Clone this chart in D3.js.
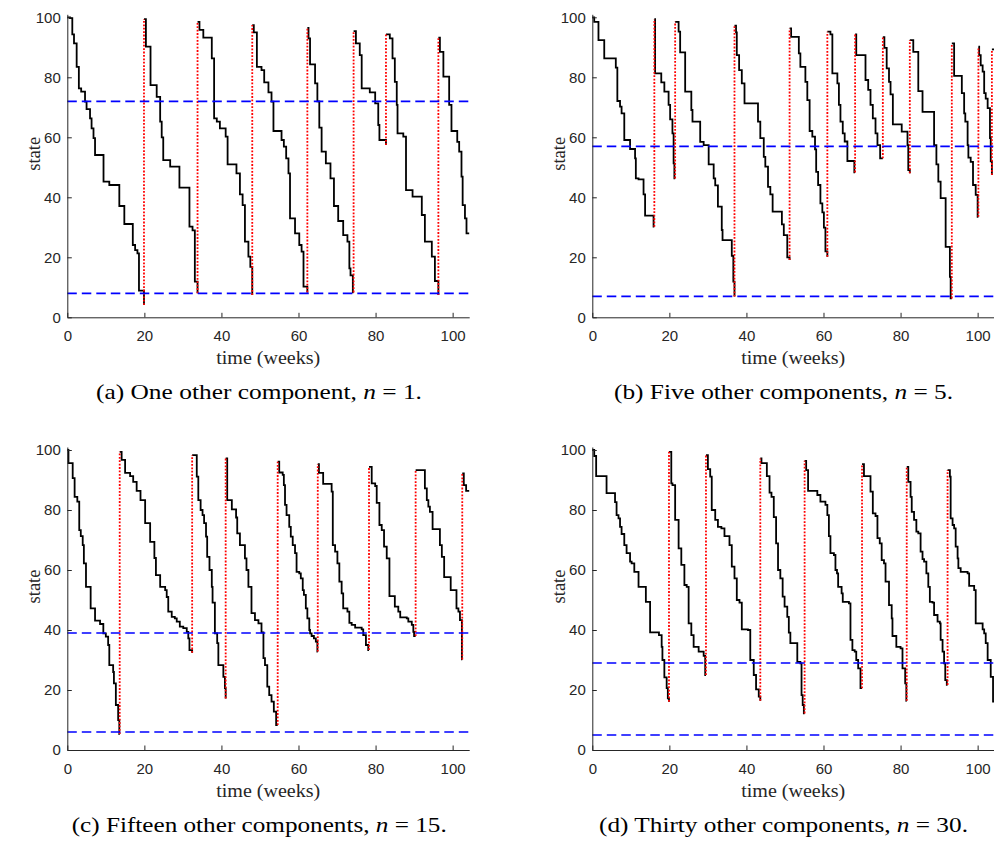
<!DOCTYPE html>
<html>
<head>
<meta charset="utf-8">
<script src="https://cdn.jsdelivr.net/npm/d3@7/dist/d3.min.js"></script>
<style>
  body { margin: 0; background: #fff; }
  svg { display: block; }
</style>
</head>
<body>
<svg id="fig" width="994" height="845"></svg>
<script>
// Component state over two years, [week, state] breakpoints of each stair path.
// A repeated week with a higher state marks a maintenance reset.
const trackA = [
  [0,100],[0.7,99.7],[1.3,94.3],[1.74,91.3],[2.43,83.5],[3.0,76.3],[3.6,75.2],[4.6,71.9],[5.0,69.4],[5.9,66.3],[6.3,63],[6.8,59.7],[7.2,54.1],[9.4,45.2],[10.9,44.1],[13.5,37.1],[14.8,31.1],[17.0,24.1],[17.6,22.4],[18.2,21.3],[18.6,8.9],[19.9,4.1],[19.9,99.4],
  [20.4,90.2],[21.6,77.4],[23.2,73.5],[24.1,65.2],[24.5,60],[24.9,52.4],[26.7,50.2],[29.1,43.2],[31.7,30.2],[32.5,29],[33.1,11.9],[33.8,8],[33.8,98.5],
  [34.3,95.8],[35.3,93.2],[37.5,86.3],[38.1,66.3],[38.8,65.2],[39.6,63],[41.1,60.2],[41.6,51],[43.9,48],[44.8,41],[45.5,37.4],[46.1,25.2],[47.0,20.2],[47.5,16.8],[48.0,7.4],[48.0,97.4],
  [48.4,95],[49.2,83.5],[50.4,82.4],[51.1,78.3],[52.2,75],[53.0,71.9],[53.5,62.1],[55.6,59.1],[56.2,56.9],[56.8,53],[57.4,48],[57.8,33],[59.1,28],[60.2,24.1],[60.8,21.9],[61.3,10.2],[62.3,8.3],[62.3,96.5],
  [62.6,93],[63.0,84.3],[64.3,78],[64.9,72],[65.4,63.2],[66.0,55.2],[67.1,51.3],[68.3,46.3],[69.2,37.1],[70.3,32.1],[71.6,27.4],[72.7,25.2],[73.2,16.3],[73.5,14],[74.1,8.3],[74.3,8.3],[74.3,95.4],
  [74.9,91.3],[75.9,87.4],[76.4,76.3],[78.5,75],[79.9,71.3],[80.7,64.1],[81.0,59.1],[82.7,57.4],[82.7,94.3],
  [83.7,93],[84.4,86.3],[85.0,78.5],[85.5,70.8],[85.7,61.3],[87.2,60.2],[87.9,42.4],[89.6,40.2],[92.0,34.1],[92.8,25.2],[94.6,20.2],[95.4,12.1],[96.3,7.4],[96.3,93.2],
  [96.7,88.5],[97.6,80.2],[99.1,70.8],[99.7,62.1],[101.2,58.5],[101.7,55.2],[102.3,46.9],[102.6,37.4],[103.2,33],[103.6,28]
];
const trackB = [
  [0,100],[0.5,98.5],[1.6,92.4],[3.1,86.3],[6.1,83.2],[6.5,72.1],[7.2,70.2],[7.6,68],[8.3,59.1],[9.8,56.1],[11.1,53],[11.3,46.3],[12.0,46],[13.3,41],[13.7,33.9],[15.9,30.2],[16.1,30.2],[16.1,99.4],
  [16.3,81.3],[17.9,78.3],[18.7,75.2],[19.8,70.8],[20.2,66],[20.8,61.3],[21.1,51.3],[21.3,46.3],[21.5,46.3],[21.5,98.5],
  [22.4,95.2],[22.8,88.3],[24.1,75.2],[25.7,69.1],[26.0,65.2],[28.0,58.5],[28.9,57.4],[30.2,51],[31.5,46.3],[31.9,44],[32.6,36.9],[33.6,29.1],[33.8,25.7],[36.2,20.5],[36.6,11.9],[36.9,6.9],[36.9,97.2],
  [37.3,95],[37.5,87.4],[38.1,82.4],[38.8,78],[39.5,71.3],[43.0,65.2],[43.6,59.7],[44.5,53.5],[44.9,50.2],[45.6,43.5],[46.2,41],[46.8,35.2],[49.2,31],[49.7,27.4],[50.6,20],[51.2,19.1],[51.2,96.3],
  [51.6,93.5],[53.6,88],[54.0,83.5],[55.3,78.5],[55.8,72.4],[56.4,62.1],[57.1,60.2],[57.8,56],[58.1,48.5],[58.6,44.1],[59.2,38],[59.7,35],[60.1,29.9],[60.5,22],[61.0,20.2],[61.0,95.2],
  [61.8,94.3],[62.3,81.3],[63.6,78],[64.0,70.8],[64.4,65.2],[65.0,61.3],[65.5,58.6],[66.2,52.1],[68.0,48.3],[68.2,48.3],[68.2,94.3],
  [68.5,87.4],[70.9,79.1],[71.6,75.8],[72.2,70.8],[72.8,66.3],[73.5,61.3],[74.0,57.4],[74.7,53],[75.4,53],[75.4,93.4],
  [75.8,89.8],[76.4,83],[77.0,78.5],[77.4,74.3],[78.0,64.3],[80.3,61.9],[81.8,57.4],[82.0,49.1],[82.4,48],[82.4,92.4],
  [83.3,88.5],[84.6,75.4],[85.7,68.5],[88.7,57.4],[89.3,51],[89.8,45.2],[90.4,39.7],[91.7,23.5],[92.8,13.5],[93.0,6.3],[93.3,6.3],[93.3,91.3],
  [93.9,80.5],[95.9,74.7],[96.5,68],[96.8,65.2],[97.4,57.4],[97.6,53.2],[98.2,51.8],[98.8,44.1],[99.5,40.8],[100.0,33.5],[100.2,33.5],[100.2,90.2],
  [100.4,87.4],[100.8,84],[101.3,81.9],[101.7,74.7],[102.1,72.9],[102.6,69.7],[103.2,59.7],[103.4,52],[103.7,47.4],[103.7,89.3]
];
const trackC = [
  [0,100],[0.3,95.6],[1.4,90.6],[1.9,84.4],[2.6,82.8],[3.1,73.3],[3.5,71.3],[4.0,68.3],[4.3,62.2],[4.85,54.4],[6.06,47.2],[7.2,43.1],[8.5,42],[9.35,38.9],[10.0,37.8],[10.6,35],[10.9,28.3],[11.9,26],[12.1,22.2],[12.6,15],[13.2,10],[13.5,5.3],[13.6,5.3],[13.6,99.4],
  [14.1,96.7],[15.0,92.4],[16.3,91.3],[17.1,89.4],[18.0,86.4],[19.0,83.3],[20.2,75.6],[21.5,69.4],[22.6,64],[23.0,58.3],[24.1,54.4],[25.4,53.3],[25.8,51],[26.2,46.1],[27.1,44.4],[27.9,43.9],[28.4,42.8],[29.2,41.1],[30.1,40.6],[31.0,39.4],[31.4,37.2],[31.7,33.3],[32.4,32.4],[32.4,98.3],
  [33.6,91.1],[34.0,83.3],[34.6,80],[35.1,78.3],[35.5,75.6],[36.0,71.1],[36.3,64.4],[36.9,60],[37.5,54.4],[37.7,49.1],[38.3,38.9],[38.9,35.6],[39.2,28.3],[40.5,24.4],[40.9,20.6],[41.1,17.2],[41.1,97.2],
  [41.5,83.3],[42.7,80.2],[43.8,77.5],[44.1,72.2],[44.8,68.3],[46.1,63.9],[46.5,60],[47.0,54.4],[47.8,45.6],[48.7,43.3],[49.6,42.2],[50.4,39.2],[50.9,30.6],[51.3,28.3],[51.9,21.1],[52.4,18.3],[53.0,16.1],[53.6,12.8],[54.2,8.3],[54.6,8.3],[54.6,96.1],
  [55.0,92.5],[55.9,91.7],[56.2,88.3],[56.5,81.7],[56.9,78.3],[57.6,74.4],[58.0,71.1],[58.5,68.3],[59.1,65.6],[59.5,59.4],[60.2,58.9],[60.6,57.2],[61.1,53.3],[61.4,51.7],[61.9,47.2],[62.3,43.9],[62.8,40],[63.0,38.9],[63.4,38],[64.0,37.2],[64.5,36.1],[64.9,32.8],[65.0,32.8],[65.0,95.3],
  [65.3,92.4],[66.4,88.7],[68.6,86.1],[68.9,68.3],[69.5,66.1],[70.1,62.2],[70.6,56.1],[71.2,52.2],[71.6,47.2],[72.7,46.1],[73.2,42.4],[73.8,41.7],[74.7,40.8],[76.4,40.2],[76.8,38.3],[77.5,35],[78.1,33.3],[78.3,33.3],[78.3,94.4],
  [79.0,88.9],[79.9,88],[80.3,82.4],[81.0,75],[81.6,73.3],[82.2,67.8],[82.9,63.9],[83.6,51.3],[85.0,47.8],[85.9,46.1],[86.4,44.2],[88.1,43.9],[88.5,42.8],[89.4,41.7],[89.8,39.4],[90.0,38],[90.4,38],[90.4,93.3],
  [92.8,87.2],[93.3,83.3],[93.7,81.1],[94.1,79.4],[94.8,73.6],[96.7,68.3],[97.2,64.4],[97.8,57.6],[99.5,53.3],[101.0,47.2],[101.5,46.1],[101.9,43.3],[102.4,30.2],[102.5,30.2],[102.5,92.2],
  [102.9,88.3],[103.5,86.4]
];
const trackD = [
  [0,100],[0.5,98],[1.0,91.3],[3.7,85.6],[5.9,82.6],[6.3,78.3],[6.8,77.2],[7.2,74.4],[7.6,72],[8.3,68.3],[8.9,65.6],[9.8,62.8],[10.2,62.2],[10.9,59.4],[12.0,54.4],[13.9,49.4],[15.0,39.2],[17.3,38.3],[18.0,34.4],[18.2,30],[18.7,24.2],[19.3,20.6],[19.6,17.2],[19.9,16.1],[19.9,99.4],
  [20.5,88.9],[20.8,88.3],[21.5,76.7],[22.4,67.2],[23.1,61.7],[23.9,55],[24.5,54.4],[25.0,42.2],[25.7,38.3],[26.3,34.4],[27.6,32.8],[28.9,31.4],[29.3,25],[29.5,25],[29.5,98.3],
  [30.0,93.6],[30.6,91.1],[31.0,80],[31.9,76.7],[32.6,74.4],[33.5,73.9],[34.3,71.3],[35.6,68.3],[36.2,61.1],[36.9,57.2],[37.5,50],[38.2,49.1],[38.8,40.2],[40.4,40],[41.0,30],[41.9,25],[42.5,20.2],[43.2,17.8],[43.6,16.4],[43.6,97.2],
  [43.9,95.6],[45.3,91.3],[46.0,85.8],[46.5,84.4],[47.1,77.6],[47.7,68.9],[48.2,60],[48.8,57.2],[49.4,51.1],[49.9,47.8],[50.6,44.4],[51.0,39.1],[51.4,35.6],[53.2,29.4],[54.0,28.9],[54.3,18.3],[54.6,15],[54.9,12.2],[55.1,12.2],[55.1,96.4],
  [55.5,93.3],[56.0,86.4],[58.4,85],[59.2,82.8],[60.5,81.7],[61.0,78.3],[61.4,71.3],[61.8,65.6],[62.7,65],[63.1,60],[63.5,58.9],[63.8,54.4],[64.7,52.2],[65.0,49.4],[66.6,48.9],[67.0,36.7],[67.5,33.3],[68.1,32.8],[68.5,30],[69.0,27.2],[69.6,20.6],[70.0,20.6],[70.0,95.3],
  [70.5,91.3],[72.2,86.1],[72.8,78.9],[73.5,78],[74.0,70.6],[74.6,68.9],[75.1,63.3],[75.7,62.2],[76.1,56.1],[77.0,48.3],[77.7,43.9],[77.9,38],[78.9,34.4],[80.0,33.9],[80.5,27.2],[81.2,22.2],[81.5,16.4],[81.6,16.4],[81.6,94.4],
  [82.0,89.4],[82.6,84.4],[82.9,79.4],[83.5,76.7],[84.1,72.8],[84.6,72.2],[85.2,66.1],[85.7,63.6],[86.1,62.8],[86.7,58.9],[87.2,54.4],[87.6,49.4],[88.3,49.1],[88.7,45],[89.6,42.8],[90.2,42.2],[90.4,36.7],[90.9,32.8],[91.3,28.9],[91.6,23.3],[92.0,21.7],[92.2,21.7],[92.2,93.3],
  [92.8,91.1],[93.0,77.2],[93.5,75],[93.9,73.9],[94.3,67.8],[94.8,63.9],[95.0,60.6],[95.6,59.4],[97.4,58.9],[97.8,54.7],[99.1,53.3],[99.5,42.2],[101.3,40.2],[101.7,38.9],[102.1,35.6],[102.6,30],[103.4,24.4],[104.0,16.1]
];

// Upper and lower state thresholds per case
const limitsA = [72, 8];
const limitsB = [57, 7];
const limitsC = [39, 6];
const limitsD = [29, 5];

const xTicks = [0, 20, 40, 60, 80, 100];
const yTicks = [0, 20, 40, 60, 80, 100];
const weekMax = 104.3;
const stateMax = 101;

const captionLead = ["(a) One other component, ", "(b) Five other components, ", "(c) Fifteen other components, ", "(d) Thirty other components, "];
const captionN = ["1", "5", "15", "30"];

// ---------------------------------------------------------------------------
const svg = d3.select("#fig");
const plotW = 401.9, plotH = 303;

const layout = [
  { track: trackA, limits: limitsA, left: 67.3, base: 317.3, capX: 96,  capW: 326 },
  { track: trackB, limits: limitsB, left: 592.3, base: 317.3, capX: 614, capW: 339 },
  { track: trackC, limits: limitsC, left: 67.3, base: 750,   capX: 71.7, capW: 375 },
  { track: trackD, limits: limitsD, left: 592.3, base: 750,   capX: 599, capW: 369 }
];

const axisInk = "#262626";
const sans = "'Liberation Sans', Arial, Helvetica, sans-serif";
const serif = "'Liberation Serif', 'Times New Roman', serif";

// split a track into decay runs and the resets between them
function splitTrack(track) {
  const runs = [[track[0]]];
  const resets = [];
  for (let i = 1; i < track.length; i++) {
    const prev = track[i - 1], cur = track[i];
    if (cur[0] === prev[0] && cur[1] > prev[1]) {
      resets.push({ week: cur[0], from: prev[1], to: cur[1] });
      runs.push([cur]);
    } else {
      runs[runs.length - 1].push(cur);
    }
  }
  return { runs, resets };
}

layout.forEach((p, k) => {
  const g = svg.append("g").attr("transform", `translate(${p.left},${p.base - plotH})`);
  const x = d3.scaleLinear().domain([0, weekMax]).range([0, plotW]);
  const y = d3.scaleLinear().domain([0, stateMax]).range([plotH, 0]);

  const { runs, resets } = splitTrack(p.track);
  const last = runs[runs.length - 1];
  last.push([weekMax, last[last.length - 1][1]]);

  const stair = d3.line()
    .x(d => x(d[0]))
    .y(d => y(d[1]))
    .curve(d3.curveStepAfter);

  g.append("g").selectAll("path").data(runs).join("path")
    .attr("d", stair)
    .attr("fill", "none")
    .attr("stroke", "#000")
    .attr("stroke-width", 1.8)
    .attr("stroke-linejoin", "miter");

  g.append("g").selectAll("line").data(resets).join("line")
    .attr("x1", d => x(d.week)).attr("x2", d => x(d.week))
    .attr("y1", d => y(d.from)).attr("y2", d => y(d.to))
    .attr("stroke", "#ff0000")
    .attr("stroke-width", 1.8)
    .attr("stroke-dasharray", "1.8,1.6");

  g.append("g").selectAll("line").data(p.limits).join("line")
    .attr("x1", x(0)).attr("x2", x(weekMax))
    .attr("y1", d => y(d)).attr("y2", d => y(d))
    .attr("stroke", "#0000ff")
    .attr("stroke-width", 1.7)
    .attr("stroke-dasharray", "9.5,5");

  // axes: ticks point inward, no box
  const xa = g.append("g").attr("transform", `translate(0,${plotH})`)
    .call(d3.axisBottom(x).tickValues(xTicks).tickSizeInner(-4.5).tickSizeOuter(0).tickPadding(13));
  const ya = g.append("g")
    .call(d3.axisLeft(y).tickValues(yTicks).tickSizeInner(-4.5).tickSizeOuter(0).tickPadding(6.5));
  [xa, ya].forEach(a => {
    a.select(".domain").attr("stroke", axisInk).attr("stroke-width", 1);
    a.selectAll(".tick line").attr("stroke", axisInk).attr("stroke-width", 1);
    a.selectAll(".tick text").attr("fill", axisInk).attr("font-family", sans).attr("font-size", 15);
  });

  // axis titles
  g.append("text")
    .attr("x", plotW / 2).attr("y", plotH + 47)
    .attr("text-anchor", "middle")
    .attr("font-family", serif).attr("font-size", 18.5).attr("fill", axisInk)
    .attr("textLength", 104).attr("lengthAdjust", "spacingAndGlyphs")
    .text("time (weeks)");
  g.append("text")
    .attr("transform", `translate(-27,${plotH / 2 - 12}) rotate(-90)`)
    .attr("text-anchor", "middle")
    .attr("font-family", serif).attr("font-size", 18.5).attr("fill", axisInk)
    .text("state");

  // sub-caption
  const cap = svg.append("text")
    .attr("x", p.capX).attr("y", p.base + 82)
    .attr("font-family", serif).attr("font-size", 21.5).attr("fill", "#000")
    .attr("textLength", p.capW).attr("lengthAdjust", "spacingAndGlyphs");
  cap.append("tspan").text(captionLead[k]);
  cap.append("tspan").attr("font-style", "italic").text("n");
  cap.append("tspan").text(" = " + captionN[k] + ".");
});
</script>
</body>
</html>
